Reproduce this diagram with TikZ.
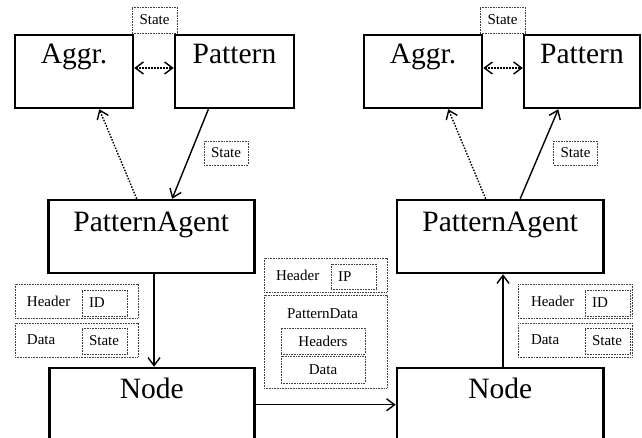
\documentclass[tikz,border=0pt]{standalone}
\usepackage{fontspec}
\setmainfont{Liberation Serif}
\usetikzlibrary{arrows.meta,calc}
\begin{document}
\begin{tikzpicture}[x=1pt,y=-1pt,
  bigbox/.style={draw, line width=2.5pt, minimum height=73pt, inner sep=0pt},
  nodebox/.style={draw, line width=2.5pt, minimum height=100pt, inner sep=0pt},
  bigtext/.style={anchor=base, font=\fontsize{29.5}{31}\selectfont, inner sep=0pt},
  smalltext/.style={font=\fontsize{15}{17}\selectfont, inner sep=0pt},
  dbox/.style={draw=black!75, line width=0.8pt, dash pattern=on 0.8pt off 0.8pt, inner sep=0pt, font=\fontsize{15}{17}\selectfont},
  outerbox/.style={dbox, minimum height=34pt, inner xsep=12pt, align=left},
  innerbox/.style={dbox, minimum height=26pt, text width=31pt, inner xsep=7pt, align=left},
  tagbox/.style={dbox, minimum width=45pt, minimum height=26pt, align=center},
  tip/.tip={Straight Barb[length=8pt,width=12pt]},
  conn/.style={line width=1.4pt, -tip},
  dconn/.style={line width=1.4pt, dash pattern=on 1.5pt off 1.5pt, -tip},
  ddconn/.style={line width=1.4pt, dash pattern=on 1.5pt off 1.5pt, tip-tip}]
\useasboundingbox (0,0) rectangle (642,438);
\clip (0,0) rectangle (642,438);

% ---------- left side ----------
\node[bigbox, minimum width=118pt] (aggrL) at (74,71.5) {};
\node[bigtext] (aggrLt) at ($(aggrL.north)+(0,30)$) {Aggr.};
\node[bigbox, minimum width=119pt] (patL) at (234.5,71.5) {};
\node[bigtext] (patLt) at ($(patL.north)+(0,30)$) {Pattern};
\node[tagbox] (stTopL) at (154.5,20) {State};
\node[tagbox, minimum width=44pt, minimum height=24pt] (stMidL) at (226,153) {State};
\node[bigbox, minimum width=206pt] (paL) at (151.3,236.5) {};
\node[bigtext] (paLt) at ($(paL.north)+(0,33)$) {PatternAgent};
\node[nodebox, minimum width=205pt] (nodeL) at (151.8,418) {};
\node[bigtext] (nodeLt) at ($(nodeL.north)+(0,32)$) {Node};

\node[outerbox, text width=99pt] (hdrL) at (76.5,301) {Header};
\node[innerbox] (idL) at (104.5,303) {ID};
\node[outerbox, text width=99pt] (datL) at (76.5,340) {Data};
\node[innerbox] (stL) at (104.5,341) {State};

% ---------- middle ----------
\node[outerbox, text width=99pt] (hdrM) at (325.5,275) {Header};
\node[innerbox, minimum height=25pt] (ipM) at (353.5,276.5) {IP};
\node[dbox, minimum width=123pt, minimum height=93pt] (pdM) at (325.5,341.5) {};
\node[smalltext, anchor=base] (pdMt) at (322.5,318) {PatternData};
\node[dbox, minimum width=84pt, minimum height=26pt] (hsM) at (323,341) {Headers};
\node[dbox, minimum width=84pt, minimum height=27pt] (dM) at (323,369.5) {Data};

% ---------- right side ----------
\node[bigbox, minimum width=118pt] (aggrR) at (423,71.5) {};
\node[bigtext] (aggrRt) at ($(aggrR.north)+(0,30)$) {Aggr.};
\node[bigbox, minimum width=116pt] (patR) at (582,71.5) {};
\node[bigtext] (patRt) at ($(patR.north)+(0,30)$) {Pattern};
\node[tagbox] (stTopR) at (502.5,20) {State};
\node[tagbox, minimum width=44pt, minimum height=24pt] (stMidR) at (575.5,153) {State};
\node[bigbox, minimum width=206.7pt] (paR) at (500.3,236.5) {};
\node[bigtext] (paRt) at ($(paR.north)+(0,33)$) {PatternAgent};
\node[nodebox, minimum width=206.7pt] (nodeR) at (500.3,418) {};
\node[bigtext] (nodeRt) at ($(nodeR.north)+(0,32)$) {Node};

\node[outerbox, text width=88pt, inner xsep=13pt] (hdrR) at (575,301) {Header};
\node[innerbox] (idR) at (607.5,303) {ID};
\node[outerbox, text width=88pt, inner xsep=13pt] (datR) at (575,340) {Data};
\node[innerbox] (stR) at (607.5,341) {State};

% ---------- connectors ----------
\draw[ddconn] ($(aggrL.east)+(0,-3.5)$) -- ($(patL.west)+(0,-3.5)$);
\draw[dconn] ($(paL.north west)!0.43!(paL.north east)$) -- ($(aggrL.south west)!0.71!(aggrL.south east)$);
\draw[conn] ($(patL.south west)!0.285!(patL.south east)$) -- ($(paL.north west)!0.60!(paL.north east)$);
\draw[conn] ($(paL.south west)!0.513!(paL.south east)$) coordinate (vL) -- (vL |- nodeL.north);

\draw[ddconn] ($(aggrR.east)+(0,-3.5)$) -- ($(patR.west)+(0,-3.5)$);
\draw[dconn] ($(paR.north west)!0.43!(paR.north east)$) -- ($(aggrR.south west)!0.71!(aggrR.south east)$);
\draw[conn] ($(paR.north west)!0.595!(paR.north east)$) -- ($(patR.south west)!0.30!(patR.south east)$);
\draw[conn] ($(nodeR.north west)!0.513!(nodeR.north east)$) coordinate (vR) -- (vR |- paR.south);

\draw[conn] ($(nodeL.north east)+(0,38)$) -- ($(nodeR.north west)+(0,38)$);
\end{tikzpicture}
\end{document}
